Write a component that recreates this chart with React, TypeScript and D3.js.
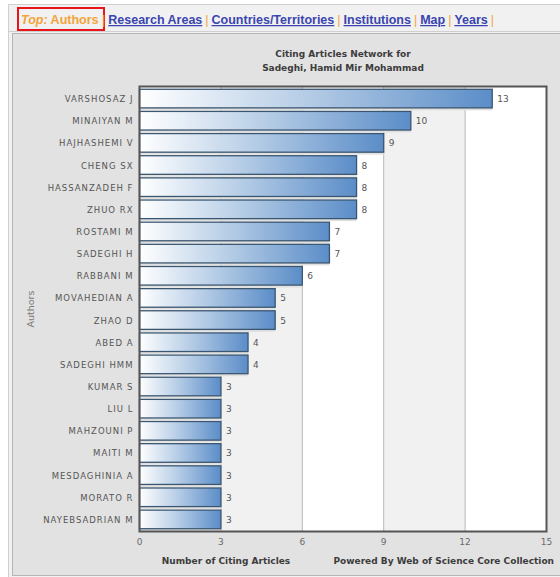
import React from "react";
import * as d3 from "d3";

const authors = [
  "VARSHOSAZ J", "MINAIYAN M", "HAJHASHEMI V", "CHENG SX", "HASSANZADEH F",
  "ZHUO RX", "ROSTAMI M", "SADEGHI H", "RABBANI M", "MOVAHEDIAN A",
  "ZHAO D", "ABED A", "SADEGHI HMM", "KUMAR S", "LIU L",
  "MAHZOUNI P", "MAITI M", "MESDAGHINIA A", "MORATO R", "NAYEBSADRIAN M",
];
const counts = [13, 10, 9, 8, 8, 8, 7, 7, 6, 5, 5, 4, 4, 3, 3, 3, 3, 3, 3, 3];
const xTicks = [0, 3, 6, 9, 12, 15];
const titleLines = ["Citing Articles Network for", "Sadeghi, Hamid Mir Mohammad"];
const tabs = ["Research Areas", "Countries/Territories", "Institutions", "Map", "Years"];

const W = 560, H = 577;
const plot = { left: 139.5, right: 546.5, top: 86.5, bottom: 531.5 };

export default function App() {
  const x = d3.scaleLinear().domain([0, 15]).range([plot.left, plot.right]);
  const y = d3.scaleBand<string>().domain(authors).range([plot.top + 1, plot.bottom - 1]).paddingInner(0.16).paddingOuter(0.08);
  const bands = d3.range(0, 15, 3);
  const font = "'DejaVu Sans', Verdana, sans-serif";
  return (
    <svg width={W} height={H} style={{ position: "absolute", left: 0, top: 0, background: "#fff" }}>
      <defs>
        <linearGradient id="barGrad" x1="0" x2="1" y1="0" y2="0">
          <stop offset="0" stopColor="#ffffff" />
          <stop offset="0.45" stopColor="#b9cfe7" />
          <stop offset="1" stopColor="#5b8dc8" />
        </linearGradient>
      </defs>
      {/* tab row */}
      <rect x={8.5} y={4.5} width={W} height={27} fill="#f1f1f1" stroke="#d0d0d0" />
      <rect x={18} y={8} width={86} height={22} fill="none" stroke="#e8151b" strokeWidth={2} />
      <text x={21} y={24} fontFamily="'Liberation Sans', Arial, sans-serif" fontSize={12.5} fontWeight="bold" xmlSpace="preserve">
        <tspan fill="#f3a43a" fontStyle="italic">Top:</tspan>
        <tspan fill="#f3a43a"> Authors </tspan>
        <tspan fill="#f3a43a" fontWeight="normal">|</tspan>
        {tabs.map((t) => (
          <React.Fragment key={t}>
            <tspan fill="#3a45b0" dx={3} textDecoration="underline">{t}</tspan>
            <tspan fill="#f3a43a" fontWeight="normal" dx={3}>|</tspan>
          </React.Fragment>
        ))}
      </text>
      {/* panel */}
      <rect x={8.5} y={31.5} width={W} height={H - 31} fill="#f2f2f2" stroke="#cfcfcf" />
      <rect x={12.5} y={33.5} width={W} height={H - 35} fill="#e2e2e2" stroke="#b5b5b5" />
      {/* title */}
      {titleLines.map((t, i) => (
        <text key={t} x={(plot.left + plot.right) / 2} y={57 + i * 14} textAnchor="middle" fontFamily={font} fontSize={9} fontWeight="bold" fill="#3c3c3c">{t}</text>
      ))}
      {/* plot background bands */}
      <rect x={plot.left} y={plot.top} width={plot.right - plot.left} height={plot.bottom - plot.top} fill="#ffffff" />
      {bands.map((b, i) => i % 2 === 1 ? (
        <rect key={b} x={x(b)} y={plot.top} width={x(b + 3) - x(b)} height={plot.bottom - plot.top} fill="#f1f1f1" />
      ) : null)}
      {xTicks.slice(1, -1).map(t => (
        <line key={t} x1={x(t)} x2={x(t)} y1={plot.top} y2={plot.bottom} stroke="#b8b8b8" />
      ))}
      {/* bars */}
      {authors.map((a, i) => (
        <g key={a}>
          <rect x={x(0)} y={(y(a) as number) + 2.5} width={x(counts[i]) - x(0)} height={y.bandwidth()} fill="#e0e0e0" />
          <rect x={x(0)} y={y(a)} width={x(counts[i]) - x(0)} height={y.bandwidth()} fill="url(#barGrad)" stroke="#3b5670" strokeWidth={1.3} />
          <text x={x(counts[i]) + 5} y={(y(a) as number) + y.bandwidth() / 2 + 3.5} fontFamily={font} fontSize={9} fill="#555">{counts[i]}</text>
          <text x={plot.left - 6} y={(y(a) as number) + y.bandwidth() / 2 + 3.5} textAnchor="end" fontFamily={font} fontSize={8.5} letterSpacing={1} fill="#555">{a}</text>
        </g>
      ))}
      {/* frame */}
      <rect x={plot.left} y={plot.top} width={plot.right - plot.left} height={plot.bottom - plot.top} fill="none" stroke="#555" strokeWidth={2} />
      {/* x ticks */}
      {xTicks.map(t => (
        <text key={t} x={x(t)} y={545} textAnchor="middle" fontFamily={font} fontSize={9} fill="#6a6a6a">{t}</text>
      ))}
      <text x={34} y={(plot.top + plot.bottom) / 2} transform={`rotate(-90 34 ${(plot.top + plot.bottom) / 2})`} textAnchor="middle" fontFamily={font} fontSize={9.5} fill="#7a7a7a">Authors</text>
      <text x={226} y={564} textAnchor="middle" fontFamily={font} fontSize={9} fontWeight="bold" fill="#3c3c3c">Number of Citing Articles</text>
      <text x={554} y={564} textAnchor="end" fontFamily={font} fontSize={9} fontWeight="bold" fill="#3c3c3c">Powered By Web of Science Core Collection</text>
    </svg>
  );
}
